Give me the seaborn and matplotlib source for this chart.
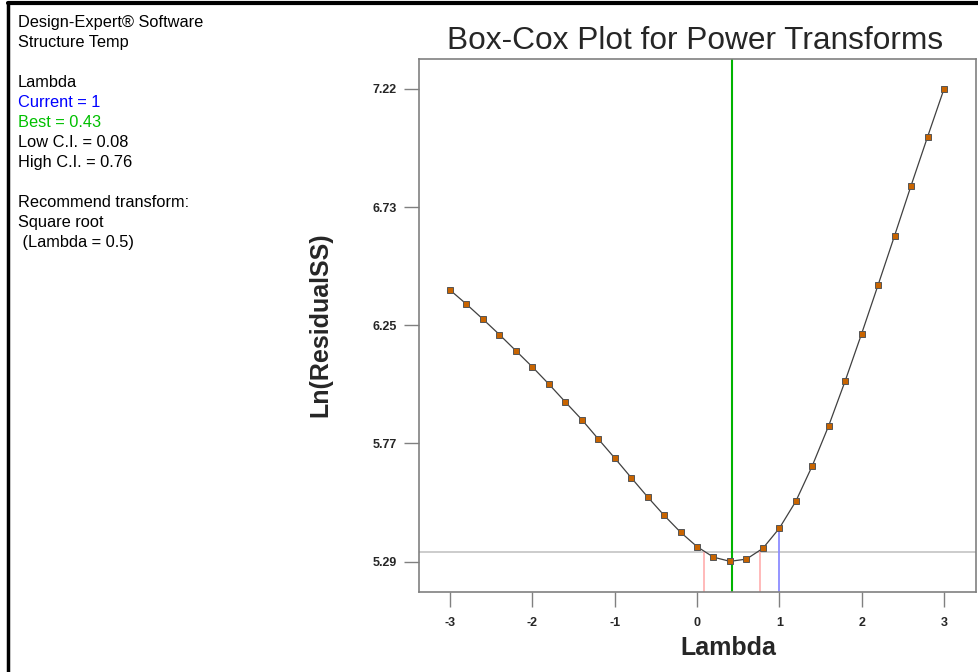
import numpy as np
import pandas as pd
import matplotlib
matplotlib.use("Agg")
import matplotlib.pyplot as plt
from matplotlib.lines import Line2D
import seaborn as sns

# ---- data ----
lambdas = [-3.0, -2.8, -2.6, -2.4, -2.2, -2.0, -1.8, -1.6, -1.4, -1.2, -1.0,
           -0.8, -0.6, -0.4, -0.2, 0.0, 0.2, 0.4, 0.6, 0.8, 1.0,
           1.2, 1.4, 1.6, 1.8, 2.0, 2.2, 2.4, 2.6, 2.8, 3.0]
ln_resid_ss = [6.399, 6.341, 6.280, 6.217, 6.151, 6.085, 6.015, 5.942, 5.870, 5.791, 5.713,
               5.633, 5.554, 5.479, 5.410, 5.351, 5.308, 5.291, 5.300, 5.344, 5.426,
               5.536, 5.681, 5.845, 6.028, 6.221, 6.420, 6.621, 6.825, 7.024, 7.220]
x_ticks = [-3, -2, -1, 0, 1, 2, 3]
y_ticks = [5.29, 5.7725, 6.255, 6.7375, 7.22]
y_tick_labels = ["5.29", "5.77", "6.25", "6.73", "7.22"]
current_lambda = 1.0
best_lambda = 0.43
low_ci = 0.08
high_ci = 0.76
ci_level = 5.331
info_lines = [
    ("Design-Expert\u00ae Software", "black"),
    ("Structure Temp", "black"),
    ("", "black"),
    ("Lambda", "black"),
    ("Current = 1", "#0000ff"),
    ("Best = 0.43", "#00c000"),
    ("Low C.I. = 0.08", "black"),
    ("High C.I. = 0.76", "black"),
    ("", "black"),
    ("Recommend transform:", "black"),
    ("Square root", "black"),
    (" (Lambda = 0.5)", "black"),
]

df = pd.DataFrame({"Lambda": lambdas, "LnSS": ln_resid_ss})

sns.set_style("white")
plt.rcParams["font.family"] = ["Liberation Sans", "DejaVu Sans"]

W, H = 979, 672
fig = plt.figure(figsize=(W / 100, H / 100), dpi=100)
L, R, T, B = 418.7, 975.7, 59.3, 591.7
ax = fig.add_axes([L / W, 1 - B / H, (R - L) / W, (B - T) / H])

ax.set_xlim(-3.38, 3.385)
ax.set_ylim(5.167, 7.341)

# reference lines
ax.axhline(ci_level, color="#c8c8c8", lw=1.3, zorder=1)
ax.axvline(best_lambda, color="#00b400", lw=1.5, zorder=1)
ax.plot([low_ci, low_ci], [5.167, ci_level], color="#ffb4b4", lw=1.3, zorder=1)
ax.plot([high_ci, high_ci], [5.167, ci_level], color="#ffb4b4", lw=1.3, zorder=1)
cur_y = float(np.interp(current_lambda, lambdas, ln_resid_ss))
ax.plot([current_lambda, current_lambda], [5.167, cur_y], color="#8c8cff", lw=1.3, zorder=1)

sns.lineplot(data=df, x="Lambda", y="LnSS", ax=ax, color="#404040", lw=0.9,
             marker="s", markersize=4.3, markerfacecolor="#c86400",
             markeredgecolor="#555555", markeredgewidth=0.7, zorder=3)

ax.set_xticks(x_ticks)
ax.set_xticklabels([str(v) for v in x_ticks])
ax.set_yticks(y_ticks)
ax.set_yticklabels(y_tick_labels)
ax.tick_params(axis="both", which="major", direction="out", length=11, width=1,
               color="#808080", labelsize=9, bottom=True, left=True)
ax.tick_params(axis="y", pad=5)
ax.tick_params(axis="x", pad=7)
for lab in ax.get_xticklabels() + ax.get_yticklabels():
    lab.set_fontweight("bold")
for s in ax.spines.values():
    s.set_color("#808080")
    s.set_linewidth(1.2)

ax.set_xlabel("")
ax.set_ylabel("")
fig.text(728 / W, 1 - 648 / H, "Lambda", ha="center", va="center",
         fontsize=18, fontweight="bold")
fig.text(320 / W, 1 - 325 / H, "Ln(ResidualSS)", ha="center", va="center",
         rotation=90, fontsize=18, fontweight="bold")
fig.text(695.5 / W, 1 - 41 / H, "Box-Cox Plot for Power Transforms",
         ha="center", va="center", fontsize=22.8)

y0 = 22.5
for i, (txt, col) in enumerate(info_lines):
    if txt:
        fig.text(18 / W, 1 - (y0 + i * 20) / H, txt, ha="left", va="center",
                 fontsize=11.8, color=col)

# screenshot border (top and left)
fig.add_artist(Line2D([8 / W, 1], [1 - 3 / H, 1 - 3 / H], color="black", lw=3,
                      transform=fig.transFigure))
fig.add_artist(Line2D([8 / W, 8 / W], [0, 1 - 3 / H], color="black", lw=2.5,
                      transform=fig.transFigure))

fig.savefig("out.png", dpi=100)
